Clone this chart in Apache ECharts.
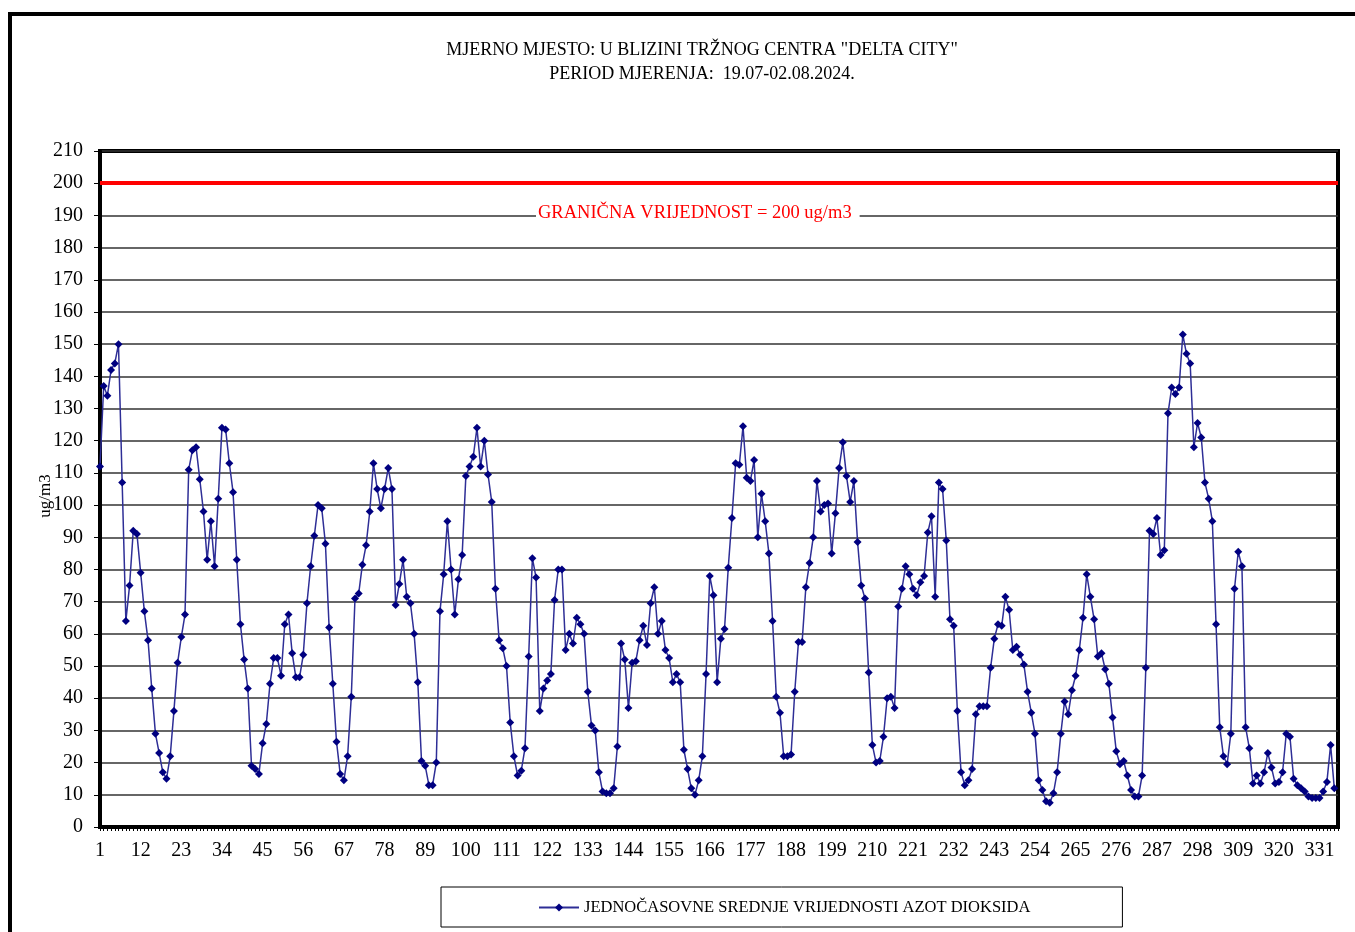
<!DOCTYPE html>
<html>
<head>
<meta charset="utf-8">
<script src="https://cdn.jsdelivr.net/npm/echarts@6/dist/echarts.min.js"></script>
<style>
  html, body { margin: 0; padding: 0; background: #fff; }
  #contain { width: 1355px; height: 932px; }
</style>
</head>
<body>
<div id="contain"></div>
<script>
// satne vrijednosti NO2 (ug/m3), ocitano sa grafika
var no2Dio1 = [112, 137, 134, 142, 144, 150, 107, 64, 75, 92, 91, 79, 67, 58, 43, 29, 23, 17, 15, 22, 36, 51, 59, 66, 111, 117, 118, 108, 98, 83, 95, 81, 102, 124, 123.5, 113, 104, 83, 63, 52, 43, 19];
var no2Dio2 = [18, 16.5, 26, 32, 44.5, 52.5, 52.5, 47, 63, 66, 54, 46.5, 46.5, 53.5, 69.5, 81, 90.5, 100, 99, 88, 62, 44.5, 26.5, 16.5, 14.5, 22, 40.5, 71, 72.5, 81.5, 87.5, 98, 113, 105, 99, 105, 111.5, 105, 69, 75.5, 83, 71.5];
var no2Dio3 = [69.5, 60, 45, 20.5, 19, 13, 13, 20, 67, 78.5, 95, 80, 66, 77, 84.5, 109, 112, 115, 124, 112, 120, 109.5, 101, 74, 58, 55.5, 50, 32.5, 22, 16, 17.5, 24.5, 53, 83.5, 77.5, 36, 43, 45.5, 47.5, 70.5, 80, 80];
var no2Dio4 = [55, 60, 57, 65, 63, 60, 42, 31.5, 30, 17, 11, 10.5, 10.5, 12, 25, 57, 52, 37, 51, 51.5, 58, 62.5, 56.5, 69.5, 74.5, 60, 64, 55, 52.5, 45, 47.5, 45, 24, 18, 12, 10, 14.5, 22, 47.5, 78, 72, 45];
var no2Dio5 = [58.5, 61.5, 80.5, 96, 113, 112.5, 124.5, 108.5, 107.5, 114, 90, 103.5, 95, 85, 64, 40.5, 35.5, 22, 22, 22.5, 42, 57.5, 57.5, 74.5, 82, 90, 107.5, 98, 100, 100.5, 85, 97.5, 111.5, 119.5, 109, 101, 107.5, 88.5, 75, 71, 48, 25.5];
var no2Dio6 = [20, 20.5, 28, 40, 40.5, 37, 68.5, 74, 81, 78.5, 74, 72, 76, 78, 91.5, 96.5, 71.5, 107, 105, 89, 64.5, 62.5, 36, 17, 13, 14.5, 18, 35, 37.5, 37.5, 37.5, 49.5, 58.5, 63, 62.5, 71.5, 67.5, 55, 56, 53.5, 50.5, 42];
var no2Dio7 = [35.5, 29, 14.5, 11.5, 8, 7.5, 10.5, 17, 29, 39, 35, 42.5, 47, 55, 65, 78.5, 71.5, 64.5, 53, 54, 49, 44.5, 34, 23.5, 19.5, 20.5, 16, 11.5, 9.5, 9.5, 16, 49.5, 92, 91, 96, 84.5, 86, 128.5, 136.5, 134.5, 136.5, 153];
var no2Dio8 = [147, 144, 118, 125.5, 121, 107, 102, 95, 63, 31, 22, 19.5, 29, 74, 85.5, 81, 31, 24.5, 13.5, 16, 13.5, 17, 23, 18.5, 13.5, 14, 17, 29, 28, 15, 13, 12, 11, 9.5, 9, 9, 9, 11, 14, 25.5, 12];

var brojSati = 336;          // broj kategorija na x osi (1..336)
var granica = 200;           // granicna vrijednost
var yMin = 0, yMax = 210, yKorak = 10;

var sati = [];
for (var i = 1; i <= brojSati; i++) { sati.push(String(i)); }
var vrijednosti = [].concat(no2Dio1, no2Dio2, no2Dio3, no2Dio4, no2Dio5, no2Dio6, no2Dio7, no2Dio8);

var font = '"Liberation Serif", "DejaVu Serif", serif';
var myChart = echarts.init(document.getElementById('contain'));

var option = {
    backgroundColor: '#fff',
    animation: false,
    title: {
        text: 'MJERNO MJESTO: U BLIZINI TRŽNOG CENTRA "DELTA CITY"\nPERIOD MJERENJA:  19.07-02.08.2024.',
        left: 697,
        textAlign: 'center',
        top: 33,
        textStyle: { fontFamily: font, fontSize: 18, fontWeight: 'normal', color: '#000', lineHeight: 24 }
    },
    graphic: [
        {
            type: 'rect',
            shape: { x: 10, y: 14, width: 1400, height: 1000 },
            style: { fill: 'none', stroke: '#000', lineWidth: 4 },
            z: 100
        },
        {
            type: 'text',
            left: 536,
            top: 202,
            style: {
                text: 'GRANIČNA VRIJEDNOST = 200 ug/m3',
                fill: '#ff0000',
                font: '18.5px ' + font,
                backgroundColor: '#fff',
                padding: [2, 8, 2, 2]
            },
            z: 50
        }
    ],
    legend: {
        left: 441,
        top: 887,
        padding: [12, 92, 11, 97],
        borderColor: '#000',
        borderWidth: 1,
        itemWidth: 40,
        itemHeight: 10,
        itemGap: 4,
        textStyle: { fontFamily: font, fontSize: 16.5, color: '#000' },
        data: ['JEDNOČASOVNE SREDNJE VRIJEDNOSTI AZOT DIOKSIDA']
    },
    grid: {
        left: 100,
        right: 17,
        top: 151,
        bottom: 105,
        show: true,
        borderColor: '#000',
        borderWidth: 4,
        containLabel: false
    },
    xAxis: {
        type: 'category',
        boundaryGap: false,
        data: sati,
        axisLine: { lineStyle: { color: '#000', width: 3 } },
        axisTick: { interval: 0, length: 4, lineStyle: { color: '#000', width: 1 } },
        axisLabel: { interval: 10, margin: 14, fontFamily: font, fontSize: 20, color: '#000' },
        splitLine: { show: false }
    },
    yAxis: {
        type: 'value',
        min: yMin,
        max: yMax,
        interval: yKorak,
        name: 'ug/m3',
        nameLocation: 'middle',
        nameGap: 46,
        nameMoveOverlap: false,
        nameRotate: 90,
        nameTextStyle: { fontFamily: font, fontSize: 17, color: '#000', padding: [0, 14, 0, 0] },
        axisLine: { show: true, lineStyle: { color: '#000', width: 3 } },
        axisTick: { show: true, length: 6, lineStyle: { color: '#000' } },
        axisLabel: { margin: 17, fontFamily: font, fontSize: 20, color: '#000' },
        splitLine: { lineStyle: { color: '#333', width: 1.5 } }
    },
    series: [
        {
            name: 'JEDNOČASOVNE SREDNJE VRIJEDNOSTI AZOT DIOKSIDA',
            type: 'line',
            data: vrijednosti,
            symbol: 'diamond',
            symbolSize: 8,
            showAllSymbol: true,
            itemStyle: { color: '#000080' },
            lineStyle: { color: '#2e2e96', width: 1.5 },
            markLine: {
                silent: true,
                symbol: 'none',
                label: { show: false },
                lineStyle: { color: '#ff0000', width: 4, type: 'solid' },
                data: [{ yAxis: granica }]
            }
        }
    ]
};

myChart.setOption(option);
</script>
</body>
</html>
